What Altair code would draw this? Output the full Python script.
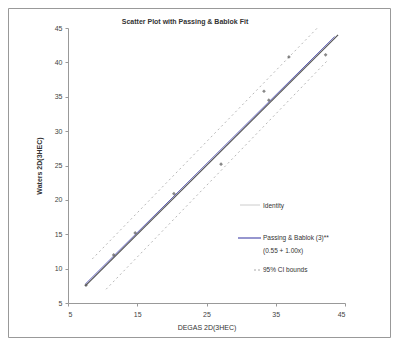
import altair as alt
import pandas as pd

# data points
pt_x = [7.6, 11.6, 14.7, 20.3, 27.1, 33.3, 34.0, 36.9, 42.2]
pt_y = [7.6, 12.0, 15.2, 20.9, 25.2, 35.8, 34.5, 40.8, 41.1]

identity_x = [7.5, 44.0]
identity_y = [7.5, 44.0]
fit_x = [7.5, 43.5]
fit_y = [7.75, 43.75]
ci_upper_x = [8.5, 41.0]
ci_upper_y = [11.4, 45.0]
ci_lower_x = [10.5, 42.5]
ci_lower_y = [7.0, 40.3]

x_ticks = [5, 15, 25, 35, 45]
y_ticks = [5, 10, 15, 20, 25, 30, 35, 40, 45]

FONT = "Liberation Sans"
W, H = 277, 275

xs = alt.Scale(domain=[5, 45], nice=False, zero=False)
ys = alt.Scale(domain=[5, 45], nice=False, zero=False)

pts = pd.DataFrame({"x": pt_x, "y": pt_y})
ident = pd.DataFrame({"x": identity_x, "y": identity_y})
fit = pd.DataFrame({"x": fit_x, "y": fit_y})
up = pd.DataFrame({"x": ci_upper_x, "y": ci_upper_y})
lo = pd.DataFrame({"x": ci_lower_x, "y": ci_lower_y})

xaxis = alt.Axis(values=x_ticks, title="DEGAS 2D(3HEC)", grid=False, tickSize=3,
                 labelFontSize=7, titleFontSize=7, titleFontWeight="normal",
                 labelColor="#444", titleColor="#333", domainColor="#999",
                 tickColor="#999", labelFont=FONT, titleFont=FONT, titlePadding=6,
                 labelPadding=4, labelOverlap=False)
yaxis = alt.Axis(values=y_ticks, title="Waters 2D(3HEC)", grid=False, tickSize=3,
                 labelFontSize=7, titleFontSize=7, titleFontWeight="bold",
                 labelColor="#444", titleColor="#333", domainColor="#999",
                 tickColor="#999", labelFont=FONT, titleFont=FONT, titlePadding=12,
                 labelPadding=3, labelOverlap=False)

bx = alt.X("x:Q", scale=xs, axis=xaxis)
by = alt.Y("y:Q", scale=ys, axis=yaxis)

l_up = alt.Chart(up).mark_line(color="#b8b8b8", strokeDash=[2, 3], strokeWidth=1).encode(x=bx, y=by)
l_lo = alt.Chart(lo).mark_line(color="#b8b8b8", strokeDash=[2, 3], strokeWidth=1).encode(x=bx, y=by)
l_id = alt.Chart(ident).mark_line(color="#555555", strokeWidth=1.2).encode(x=bx, y=by)
l_fit = alt.Chart(fit).mark_line(color="#6060b8", strokeWidth=1).encode(x=bx, y=by)
l_pts = alt.Chart(pts).mark_point(shape="diamond", filled=True, size=14, color="#555555").encode(x=bx, y=by)

# legend (decoration)
leg_id_line = alt.Chart(pd.DataFrame({"a": [0]})).mark_rule(color="#cccccc", strokeWidth=1).encode(
    x=alt.value(172), x2=alt.value(192), y=alt.value(177))
leg_fit_line = alt.Chart(pd.DataFrame({"a": [0]})).mark_rule(color="#5050b0", strokeWidth=1.2).encode(
    x=alt.value(170), x2=alt.value(193), y=alt.value(210))
leg_ci_line = alt.Chart(pd.DataFrame({"a": [0]})).mark_rule(color="#aaaaaa", strokeWidth=1, strokeDash=[2, 2]).encode(
    x=alt.value(186), x2=alt.value(192), y=alt.value(242))

legend_text = ["Identity", "Passing & Bablok (3)**", "(0.55 + 1.00x)", "95% CI bounds"]
legend_y = [178, 210, 223, 242]
leg_txt_layers = []
for t, yy in zip(legend_text, legend_y):
    leg_txt_layers.append(
        alt.Chart(pd.DataFrame({"t": [t]})).mark_text(
            align="left", baseline="middle", fontSize=6.5, font=FONT, color="#333"
        ).encode(x=alt.value(195), y=alt.value(yy), text="t:N")
    )

title = alt.Chart(pd.DataFrame({"t": ["Scatter Plot with Passing & Bablok Fit"]})).mark_text(
    align="center", baseline="middle", fontSize=7, fontWeight="bold", font=FONT, color="#333"
).encode(x=alt.value(117), y=alt.value(-6), text="t:N")

frame = alt.Chart(pd.DataFrame({"a": [0]})).mark_rect(
    fill=None, stroke="#999999", strokeWidth=1
).encode(x=alt.value(-59.5), x2=alt.value(322.5), y=alt.value(-19.5), y2=alt.value(309.5))

chart = alt.layer(
    frame, l_up, l_lo, l_id, l_fit, l_pts, leg_id_line, leg_fit_line, leg_ci_line,
    *leg_txt_layers, title
).properties(
    width=W, height=H,
    padding={"left": 60, "top": 20, "right": 46, "bottom": 35},
    autosize=alt.AutoSizeParams(type="none"),
    background="white",
).configure_view(stroke=None)

chart.save("out.html", embed_options={"renderer": "svg", "actions": False})
